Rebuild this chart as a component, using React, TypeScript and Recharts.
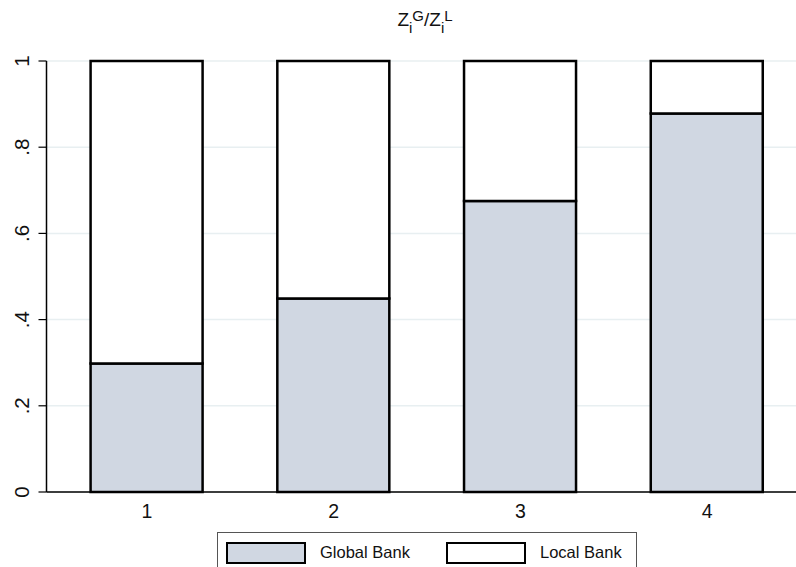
import React from 'react';
import { BarChart, Bar, XAxis, YAxis, CartesianGrid, Legend } from 'recharts';

// bank groups on the x axis
const groups = [1, 2, 3, 4];
// share of lending by the global bank
const globalShare = [0.298, 0.449, 0.675, 0.878];
// share of lending by the local bank
const localShare = [0.702, 0.551, 0.325, 0.122];
const yTicks = [0, 0.2, 0.4, 0.6, 0.8, 1];
const yTickLabels = ['0', '.2', '.4', '.6', '.8', '1'];

const FONT = '"Liberation Sans", Arial, Helvetica, sans-serif';
const GLOBAL_FILL = '#d0d7e2';

const data = groups.map((g, i) => ({
  group: g,
  globalBank: globalShare[i],
  localBank: localShare[i],
}));

const YTick = (props: any) => {
  const { y, payload } = props;
  const idx = yTicks.indexOf(payload.value);
  const label = idx >= 0 ? yTickLabels[idx] : String(payload.value);
  return (
    <text
      x={29}
      y={y}
      transform={`rotate(-90, 29, ${y})`}
      textAnchor="middle"
      fontSize={20.5}
      fontFamily={FONT}
      fill="#111"
    >
      {label}
    </text>
  );
};

const LegendBox = () => (
  <div
    style={{
      position: 'absolute',
      left: 217,
      top: 532,
      width: 420,
      height: 44,
      border: '1px solid #555',
      boxSizing: 'border-box',
      fontFamily: FONT,
      fontSize: 16.5,
      color: '#111',
      background: '#fff',
    }}
  >
    <div style={{ position: 'absolute', left: 8, top: 9, width: 80, height: 22, boxSizing: 'border-box', border: '2.5px solid #000', background: GLOBAL_FILL }} />
    <div style={{ position: 'absolute', left: 102, top: 10 }}>Global Bank</div>
    <div style={{ position: 'absolute', left: 228, top: 9, width: 80, height: 22, boxSizing: 'border-box', border: '2.5px solid #000', background: '#fff' }} />
    <div style={{ position: 'absolute', left: 322, top: 10 }}>Local Bank</div>
  </div>
);

export default function App() {
  return (
    <div style={{ position: 'absolute', left: 0, top: 0, width: 796, height: 567, overflow: 'hidden', background: '#fff' }}>
      <BarChart
        width={796}
        height={567}
        data={data}
        margin={{ top: 61, right: 0, bottom: 45, left: 0 }}
        barGap={0}
      >
        <CartesianGrid horizontal vertical={false} stroke="#e8eff1" strokeWidth={1.5} />
        <XAxis
          dataKey="group"
          type="number"
          domain={[0.462, 4.476]}
          ticks={groups}
          allowDataOverflow
          tickLine={false}
          axisLine={{ stroke: '#000', strokeWidth: 1.5 }}
          height={30}
          tick={{ fontSize: 19.5, fontFamily: FONT, fill: '#111', dy: 4 }}
        />
        <YAxis
          type="number"
          domain={[0, 1]}
          ticks={yTicks}
          width={46.5}
          tickSize={8}
          tickLine={{ stroke: '#000', strokeWidth: 1.2 }}
          axisLine={{ stroke: '#000', strokeWidth: 1.5 }}
          tick={<YTick />}
        />
        <Bar dataKey="globalBank" stackId="a" barSize={112} fill={GLOBAL_FILL} stroke="#000" strokeWidth={2.5} isAnimationActive={false} />
        <Bar dataKey="localBank" stackId="a" barSize={112} fill="#fff" stroke="#000" strokeWidth={2.5} isAnimationActive={false} />
        <Legend content={() => null} />
      </BarChart>
      <svg width={796} height={40} style={{ position: 'absolute', left: 0, top: 0 }}>
        {/* title: Z_i^G / Z_i^L */}
        <text x={425} y={26} textAnchor="middle" fontSize={19} fontFamily={FONT} fill="#111">
          Z<tspan fontSize={15} dy={7}>i</tspan>
          <tspan fontSize={15} dy={-12}>G</tspan>
          <tspan fontSize={19} dy={5}>/Z</tspan>
          <tspan fontSize={15} dy={7}>i</tspan>
          <tspan fontSize={15} dy={-12}>L</tspan>
        </text>
      </svg>
      <LegendBox />
    </div>
  );
}
